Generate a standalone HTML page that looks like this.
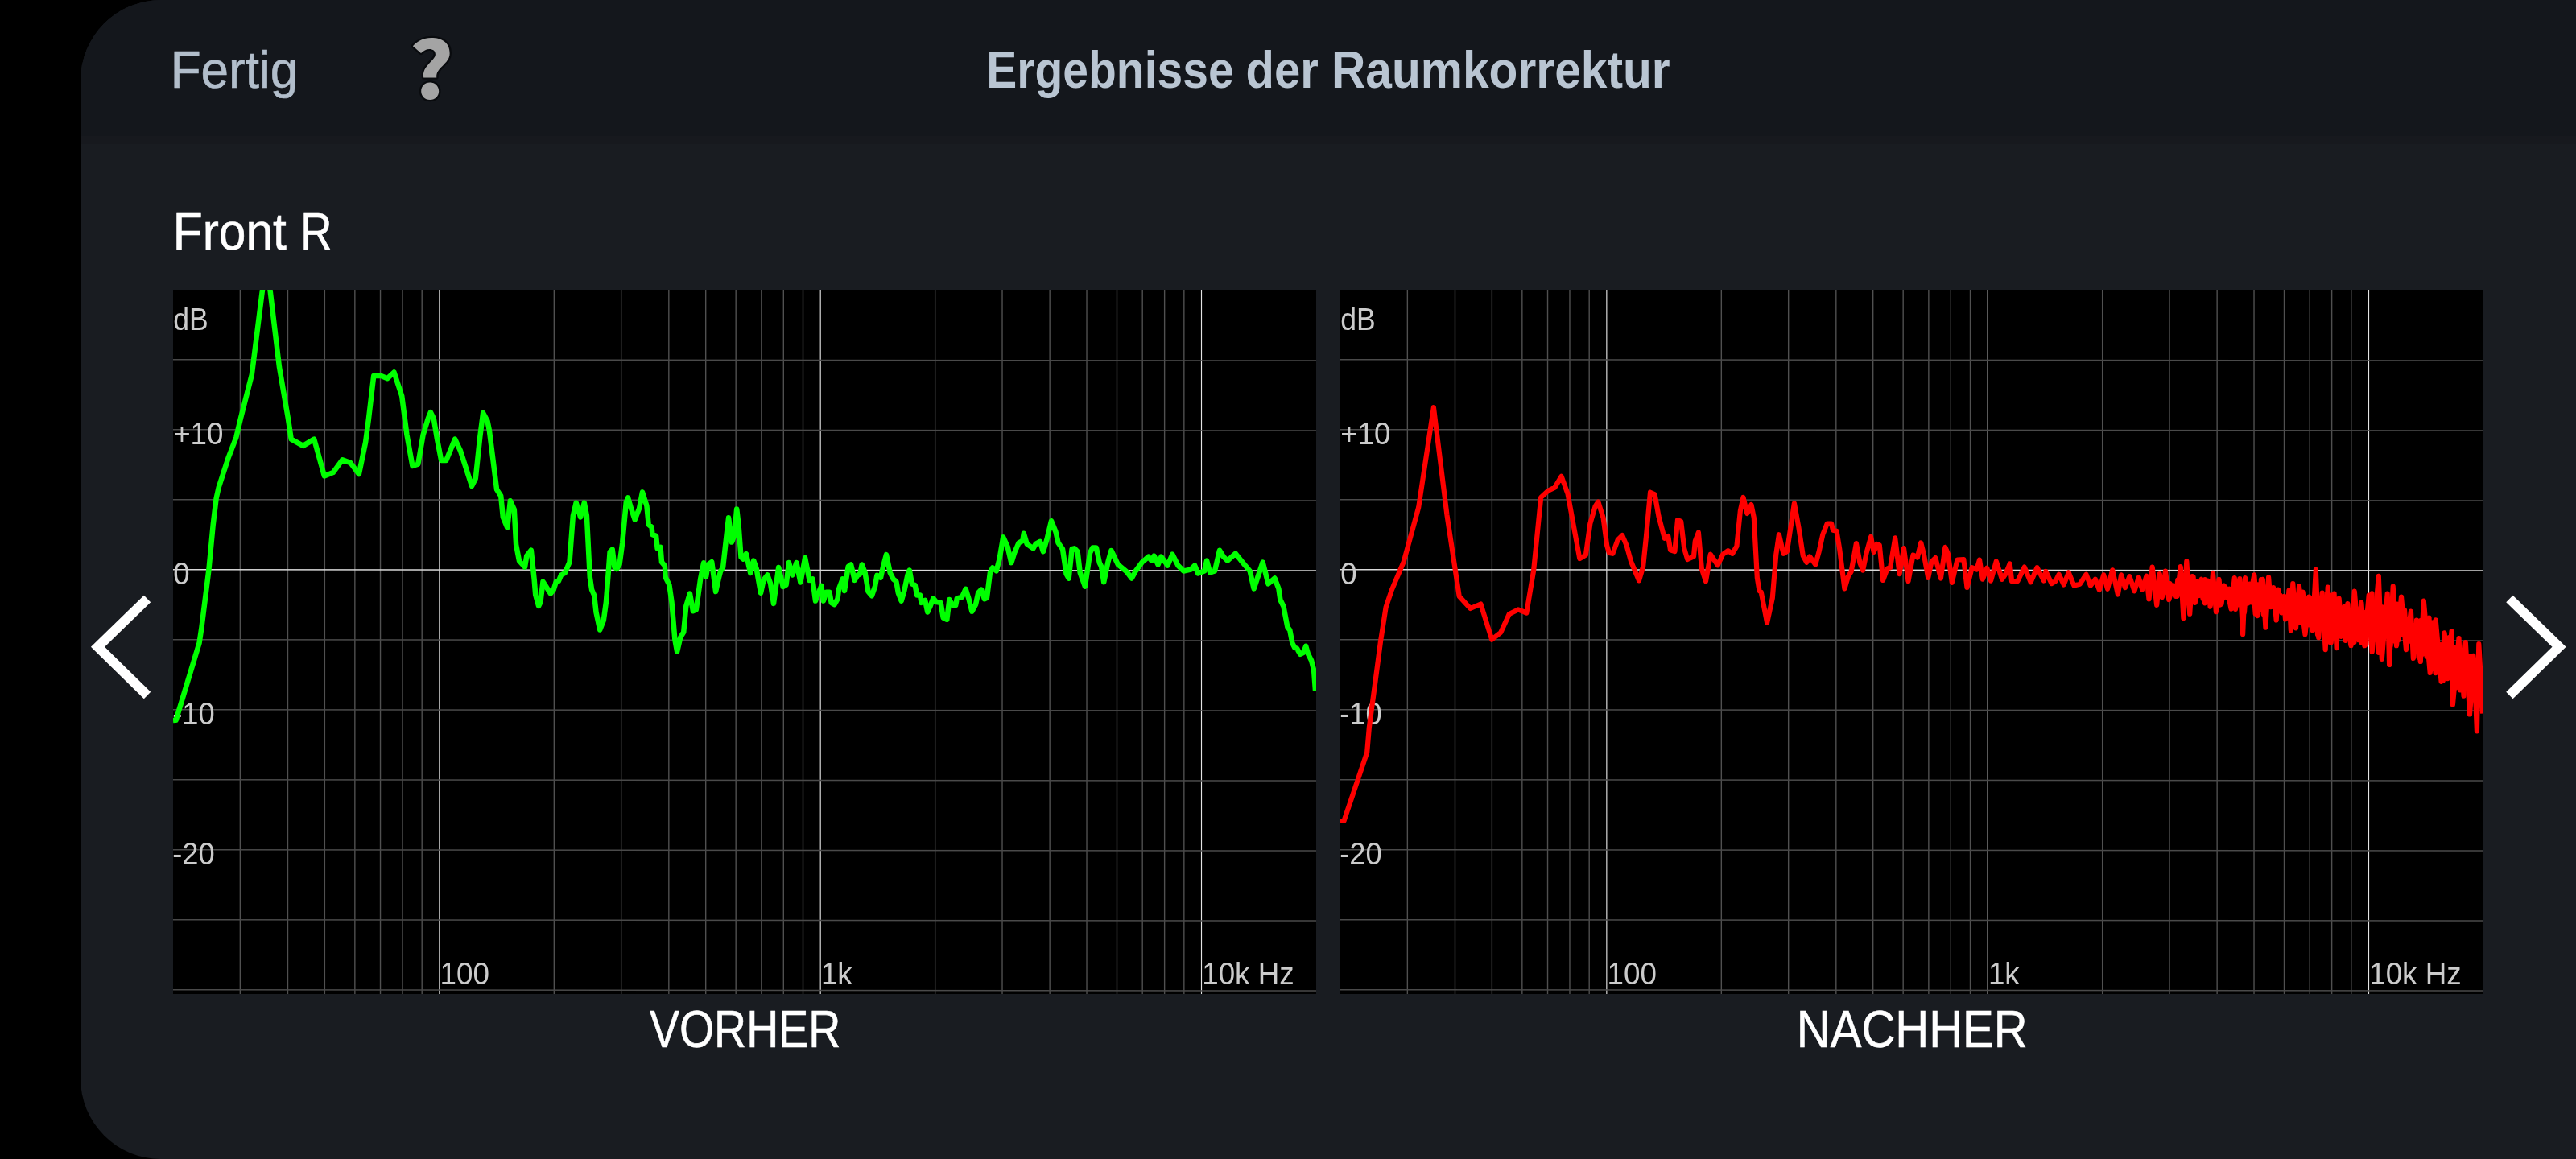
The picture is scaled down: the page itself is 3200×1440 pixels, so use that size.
<!DOCTYPE html>
<html lang="de"><head><meta charset="utf-8"><title>Ergebnisse der Raumkorrektur</title>
<style>
html,body{margin:0;padding:0;background:#000;}
body{width:3200px;height:1440px;position:relative;overflow:hidden;font-family:"Liberation Sans",sans-serif;}
#panel{position:absolute;left:100px;top:0;width:3100px;height:1440px;background:#191c21;border-radius:100px 0 0 100px;overflow:hidden;}
#hdr{position:absolute;left:0;top:0;width:100%;height:169px;background:#14171c;}
#hsh{position:absolute;left:0;top:169px;width:100%;height:10px;background:#17191e;}
svg{position:absolute;left:0;top:0;will-change:transform;}
</style></head><body>
<div id="panel"><div id="hdr"></div><div id="hsh"></div></div>
<svg width="3200" height="1440" viewBox="0 0 3200 1440">
<defs><clipPath id="c1"><rect x="215" y="360" width="1420" height="875"/></clipPath>
<clipPath id="c2"><rect x="1665" y="360" width="1420" height="875"/></clipPath></defs>
<text transform="translate(211.63,109.10) scale(0.9700,1)" font-family="Liberation Sans, sans-serif" font-size="64" font-weight="normal" fill="#b2becb" stroke="#b2becb" stroke-width="0.6">Fertig</text>
<text transform="translate(508,122.9) scale(1.067,1)" font-family="Noto Sans CJK JP, sans-serif" font-weight="900" font-size="97" fill="#a4a4a4" stroke="#090b0e" stroke-width="4.5" stroke-linejoin="round" paint-order="stroke">?</text>
<text y="109" font-family="Liberation Sans, sans-serif" font-size="64" font-weight="bold" fill="#b9c5d2"><tspan x="1225.28" textLength="307.32" lengthAdjust="spacingAndGlyphs">Ergebnisse</tspan> <tspan x="1547.48" textLength="90.25" lengthAdjust="spacingAndGlyphs">der</tspan> <tspan x="1653.98" textLength="420.64" lengthAdjust="spacingAndGlyphs">Raumkorrektur</tspan></text>
<text y="310.2" font-family="Liberation Sans, sans-serif" font-size="64" fill="#ffffff" stroke="#ffffff" stroke-width="0.6"><tspan x="214.76" textLength="141.12" lengthAdjust="spacingAndGlyphs">Front</tspan> <tspan x="373.25" textLength="39.23" lengthAdjust="spacingAndGlyphs">R</tspan></text>
<rect x="215" y="360" width="1420" height="875" fill="#000"/>
<rect x="1665" y="360" width="1420" height="875" fill="#000"/>
<g clip-path="url(#c1)"><line x1="298.35" y1="360" x2="298.35" y2="1235" stroke="#505050" stroke-width="1.4"/>
<line x1="357.49" y1="360" x2="357.49" y2="1235" stroke="#505050" stroke-width="1.4"/>
<line x1="403.36" y1="360" x2="403.36" y2="1235" stroke="#505050" stroke-width="1.4"/>
<line x1="440.84" y1="360" x2="440.84" y2="1235" stroke="#505050" stroke-width="1.4"/>
<line x1="472.53" y1="360" x2="472.53" y2="1235" stroke="#505050" stroke-width="1.4"/>
<line x1="499.98" y1="360" x2="499.98" y2="1235" stroke="#505050" stroke-width="1.4"/>
<line x1="524.19" y1="360" x2="524.19" y2="1235" stroke="#505050" stroke-width="1.4"/>
<line x1="545.85" y1="360" x2="545.85" y2="1235" stroke="#e4e4e4" stroke-width="1.15"/>
<line x1="688.33" y1="360" x2="688.33" y2="1235" stroke="#505050" stroke-width="1.4"/>
<line x1="771.68" y1="360" x2="771.68" y2="1235" stroke="#505050" stroke-width="1.4"/>
<line x1="830.82" y1="360" x2="830.82" y2="1235" stroke="#505050" stroke-width="1.4"/>
<line x1="876.69" y1="360" x2="876.69" y2="1235" stroke="#505050" stroke-width="1.4"/>
<line x1="914.17" y1="360" x2="914.17" y2="1235" stroke="#505050" stroke-width="1.4"/>
<line x1="945.86" y1="360" x2="945.86" y2="1235" stroke="#505050" stroke-width="1.4"/>
<line x1="973.31" y1="360" x2="973.31" y2="1235" stroke="#505050" stroke-width="1.4"/>
<line x1="997.52" y1="360" x2="997.52" y2="1235" stroke="#505050" stroke-width="1.4"/>
<line x1="1019.18" y1="360" x2="1019.18" y2="1235" stroke="#e4e4e4" stroke-width="1.15"/>
<line x1="1161.67" y1="360" x2="1161.67" y2="1235" stroke="#505050" stroke-width="1.4"/>
<line x1="1245.02" y1="360" x2="1245.02" y2="1235" stroke="#505050" stroke-width="1.4"/>
<line x1="1304.15" y1="360" x2="1304.15" y2="1235" stroke="#505050" stroke-width="1.4"/>
<line x1="1350.02" y1="360" x2="1350.02" y2="1235" stroke="#505050" stroke-width="1.4"/>
<line x1="1387.50" y1="360" x2="1387.50" y2="1235" stroke="#505050" stroke-width="1.4"/>
<line x1="1419.19" y1="360" x2="1419.19" y2="1235" stroke="#505050" stroke-width="1.4"/>
<line x1="1446.64" y1="360" x2="1446.64" y2="1235" stroke="#505050" stroke-width="1.4"/>
<line x1="1470.85" y1="360" x2="1470.85" y2="1235" stroke="#505050" stroke-width="1.4"/>
<line x1="1492.51" y1="360" x2="1492.51" y2="1235" stroke="#e4e4e4" stroke-width="1.15"/>
<line x1="215" y1="1229.75" x2="1635" y2="1231.05" stroke="#4a4a4a" stroke-width="1.5"/>
<line x1="215" y1="1142.75" x2="1635" y2="1144.05" stroke="#4a4a4a" stroke-width="1.5"/>
<line x1="215" y1="1055.75" x2="1635" y2="1057.05" stroke="#4a4a4a" stroke-width="1.5"/>
<line x1="215" y1="968.75" x2="1635" y2="970.05" stroke="#4a4a4a" stroke-width="1.5"/>
<line x1="215" y1="881.75" x2="1635" y2="883.05" stroke="#4a4a4a" stroke-width="1.5"/>
<line x1="215" y1="794.75" x2="1635" y2="796.05" stroke="#4a4a4a" stroke-width="1.5"/>
<line x1="215" y1="707.75" x2="1635" y2="709.05" stroke="#d8d8d8" stroke-width="1.5"/>
<line x1="215" y1="620.75" x2="1635" y2="622.05" stroke="#4a4a4a" stroke-width="1.5"/>
<line x1="215" y1="533.75" x2="1635" y2="535.05" stroke="#4a4a4a" stroke-width="1.5"/>
<line x1="215" y1="446.75" x2="1635" y2="448.05" stroke="#4a4a4a" stroke-width="1.5"/>
<text transform="translate(215.18,409.70) scale(0.9240,1)" font-family="Liberation Sans, sans-serif" font-size="38.5" font-weight="normal" fill="#cbcbcb">dB</text>
<text transform="translate(215.13,552.00) scale(0.9540,1)" font-family="Liberation Sans, sans-serif" font-size="38.5" font-weight="normal" fill="#cbcbcb">+10</text>
<text transform="translate(215.30,726.00) scale(0.9500,1)" font-family="Liberation Sans, sans-serif" font-size="38.5" font-weight="normal" fill="#cbcbcb">0</text>
<text transform="translate(214.15,900.00) scale(0.9430,1)" font-family="Liberation Sans, sans-serif" font-size="38.5" font-weight="normal" fill="#cbcbcb">-10</text>
<text transform="translate(214.15,1074.00) scale(0.9430,1)" font-family="Liberation Sans, sans-serif" font-size="38.5" font-weight="normal" fill="#cbcbcb">-20</text>
<text transform="translate(546.57,1222.90) scale(0.9550,1)" font-family="Liberation Sans, sans-serif" font-size="38.5" font-weight="normal" fill="#cbcbcb">100</text>
<text transform="translate(1019.91,1222.90) scale(0.9550,1)" font-family="Liberation Sans, sans-serif" font-size="38.5" font-weight="normal" fill="#cbcbcb">1k</text>
<text transform="translate(1493.24,1222.90) scale(0.9550,1)" font-family="Liberation Sans, sans-serif" font-size="38.5" font-weight="normal" fill="#cbcbcb">10k Hz</text>
<path d="M215.0,895.0 L218.6,894.7 L247.6,798.7 L250.3,780.6 L259.4,708.0 L264.7,652.0 L268.6,619.4 L271.7,605.4 L283.3,569.7 L293.4,543.3 L298.9,520.0 L312.8,465.6 L326.0,360.0 L330.7,330.0 L335.5,360.0 L347.0,456.3 L357.9,520.0 L361.7,545.6 L376.5,553.9 L390.2,545.6 L402.9,591.4 L413.8,587.1 L425.4,571.2 L435.5,575.1 L445.9,589.1 L454.1,549.5 L458.0,520.0 L464.2,467.1 L472.8,466.8 L481.3,470.2 L489.5,462.5 L499.2,492.0 L505.4,540.0 L512.4,579.0 L519.3,576.7 L525.6,540.2 L531.8,520.0 L534.9,512.2 L538.8,520.0 L542.6,543.3 L548.1,572.0 L554.3,572.0 L565.2,545.6 L572.1,560.4 L586.1,603.9 L590.8,594.5 L596.2,543.3 L600.1,513.0 L605.5,523.0 L607.9,535.0 L617.1,608.3 L622.2,616.1 L624.8,642.5 L630.3,655.7 L633.9,622.3 L638.8,633.2 L641.1,676.6 L645.0,696.8 L652.0,704.6 L654.3,690.6 L659.8,683.6 L663.7,720.4 L665.2,739.0 L669.1,753.0 L671.4,748.3 L674.5,722.7 L683.9,737.5 L687.7,732.8 L690.8,722.7 L693.9,721.9 L697.0,714.5 L701.7,712.0 L707.5,698.5 L711.8,640.9 L715.7,624.6 L721.1,642.5 L725.8,624.6 L728.9,640.9 L732.8,717.3 L735.1,732.8 L738.2,739.8 L740.5,760.7 L745.2,782.5 L749.8,770.8 L752.9,748.3 L756.1,706.4 L757.6,685.7 L760.7,682.6 L763.5,705.0 L766.1,707.0 L769.6,701.0 L773.1,675.1 L777.8,623.9 L780.1,618.4 L784.0,631.6 L788.7,645.6 L794.1,631.6 L798.0,611.4 L803.4,628.5 L805.7,651.8 L809.6,654.9 L810.4,664.2 L815.1,665.8 L816.6,681.3 L820.5,679.8 L822.0,698.4 L825.9,703.0 L826.7,717.3 L831.4,726.6 L834.5,748.3 L838.4,794.9 L841.1,809.7 L845.3,791.8 L849.2,785.6 L852.3,753.0 L857.0,737.5 L860.9,759.2 L864.8,757.6 L870.2,718.8 L874.1,699.3 L877.2,716.3 L879.5,701.6 L884.2,698.1 L889.1,735.1 L892.7,719.0 L895.0,710.0 L898.1,705.0 L902.8,662.7 L905.1,643.3 L909.0,673.5 L912.1,665.8 L915.2,632.4 L917.5,651.8 L920.5,692.3 L923.4,694.6 L926.9,688.0 L932.2,712.0 L936.2,696.6 L939.7,706.6 L945.0,736.7 L948.6,720.4 L953.3,714.4 L957.1,725.0 L961.0,749.9 L967.2,705.0 L972.7,728.9 L976.6,726.6 L980.0,699.0 L984.3,714.5 L989.4,699.0 L994.4,723.5 L1000.1,693.0 L1005.5,720.9 L1009.4,719.4 L1013.0,746.6 L1020.3,727.9 L1022.9,746.6 L1026.5,735.7 L1030.4,735.7 L1032.7,748.9 L1036.6,751.2 L1040.5,744.2 L1042.0,731.8 L1046.7,719.4 L1049.0,734.1 L1053.7,703.9 L1057.1,701.5 L1061.7,720.9 L1065.3,714.7 L1068.4,713.2 L1070.7,701.5 L1074.6,711.6 L1078.5,734.9 L1082.9,740.3 L1087.0,728.7 L1089.4,714.7 L1094.0,717.8 L1097.1,703.9 L1101.0,689.1 L1105.7,711.6 L1109.6,719.4 L1113.4,722.5 L1115.8,736.5 L1119.7,746.6 L1123.5,733.4 L1127.4,714.7 L1129.8,708.5 L1132.9,725.6 L1136.7,727.1 L1139.1,739.6 L1143.0,739.6 L1144.5,748.9 L1149.2,745.8 L1152.3,760.5 L1155.4,753.5 L1159.3,743.4 L1163.1,748.1 L1168.6,748.9 L1171.7,767.5 L1176.3,769.8 L1179.4,745.0 L1183.3,752.0 L1187.2,752.0 L1188.8,743.4 L1195.0,741.9 L1199.6,731.8 L1203.5,744.2 L1207.4,759.8 L1212.0,751.2 L1215.2,736.5 L1219.0,732.6 L1222.9,744.2 L1226.0,742.7 L1229.9,711.6 L1233.0,705.4 L1237.7,709.3 L1241.6,694.5 L1246.2,667.4 L1251.6,679.0 L1256.3,699.2 L1260.2,686.8 L1265.6,674.3 L1270.3,672.0 L1271.8,662.7 L1275.7,675.9 L1283.5,681.3 L1286.6,675.9 L1292.0,672.8 L1295.9,685.2 L1300.6,669.7 L1306.0,647.2 L1311.4,660.4 L1314.5,674.3 L1320.0,682.1 L1324.6,713.2 L1327.7,718.6 L1331.6,682.1 L1334.7,681.3 L1338.6,685.2 L1341.7,711.6 L1347.9,728.7 L1354.1,686.8 L1357.2,680.6 L1361.9,680.6 L1365.8,699.2 L1368.1,703.9 L1371.2,723.3 L1376.6,697.6 L1380.5,684.0 L1388.9,701.6 L1399.8,710.5 L1405.8,718.5 L1410.8,709.5 L1418.7,698.6 L1426.6,691.7 L1430.6,696.6 L1433.6,690.7 L1438.6,701.6 L1442.5,691.7 L1450.5,702.6 L1456.4,688.7 L1463.4,702.6 L1470.3,709.5 L1479.2,707.6 L1484.2,702.6 L1488.2,712.5 L1496.1,709.5 L1499.1,696.6 L1503.1,711.5 L1509.0,709.5 L1515.0,683.7 L1519.9,691.7 L1524.9,696.6 L1534.8,687.7 L1541.8,696.6 L1552.7,709.5 L1557.6,731.4 L1568.6,698.6 L1575.5,725.4 L1583.5,718.5 L1588.4,731.4 L1590.4,745.3 L1594.4,753.2 L1599.3,779.0 L1602.3,783.0 L1605.3,798.9 L1608.3,804.8 L1611.2,805.8 L1615.2,812.8 L1619.2,810.8 L1622.2,802.8 L1625.1,812.8 L1629.1,820.7 L1632.1,832.6 L1634.0,858.0" fill="none" stroke="#00ff00" stroke-width="6.5" stroke-linejoin="round" stroke-linecap="butt"/></g>
<g clip-path="url(#c2)"><line x1="1748.35" y1="360" x2="1748.35" y2="1235" stroke="#505050" stroke-width="1.4"/>
<line x1="1807.49" y1="360" x2="1807.49" y2="1235" stroke="#505050" stroke-width="1.4"/>
<line x1="1853.36" y1="360" x2="1853.36" y2="1235" stroke="#505050" stroke-width="1.4"/>
<line x1="1890.84" y1="360" x2="1890.84" y2="1235" stroke="#505050" stroke-width="1.4"/>
<line x1="1922.53" y1="360" x2="1922.53" y2="1235" stroke="#505050" stroke-width="1.4"/>
<line x1="1949.98" y1="360" x2="1949.98" y2="1235" stroke="#505050" stroke-width="1.4"/>
<line x1="1974.19" y1="360" x2="1974.19" y2="1235" stroke="#505050" stroke-width="1.4"/>
<line x1="1995.85" y1="360" x2="1995.85" y2="1235" stroke="#e4e4e4" stroke-width="1.15"/>
<line x1="2138.33" y1="360" x2="2138.33" y2="1235" stroke="#505050" stroke-width="1.4"/>
<line x1="2221.68" y1="360" x2="2221.68" y2="1235" stroke="#505050" stroke-width="1.4"/>
<line x1="2280.82" y1="360" x2="2280.82" y2="1235" stroke="#505050" stroke-width="1.4"/>
<line x1="2326.69" y1="360" x2="2326.69" y2="1235" stroke="#505050" stroke-width="1.4"/>
<line x1="2364.17" y1="360" x2="2364.17" y2="1235" stroke="#505050" stroke-width="1.4"/>
<line x1="2395.86" y1="360" x2="2395.86" y2="1235" stroke="#505050" stroke-width="1.4"/>
<line x1="2423.31" y1="360" x2="2423.31" y2="1235" stroke="#505050" stroke-width="1.4"/>
<line x1="2447.52" y1="360" x2="2447.52" y2="1235" stroke="#505050" stroke-width="1.4"/>
<line x1="2469.18" y1="360" x2="2469.18" y2="1235" stroke="#e4e4e4" stroke-width="1.15"/>
<line x1="2611.67" y1="360" x2="2611.67" y2="1235" stroke="#505050" stroke-width="1.4"/>
<line x1="2695.02" y1="360" x2="2695.02" y2="1235" stroke="#505050" stroke-width="1.4"/>
<line x1="2754.15" y1="360" x2="2754.15" y2="1235" stroke="#505050" stroke-width="1.4"/>
<line x1="2800.02" y1="360" x2="2800.02" y2="1235" stroke="#505050" stroke-width="1.4"/>
<line x1="2837.50" y1="360" x2="2837.50" y2="1235" stroke="#505050" stroke-width="1.4"/>
<line x1="2869.19" y1="360" x2="2869.19" y2="1235" stroke="#505050" stroke-width="1.4"/>
<line x1="2896.64" y1="360" x2="2896.64" y2="1235" stroke="#505050" stroke-width="1.4"/>
<line x1="2920.85" y1="360" x2="2920.85" y2="1235" stroke="#505050" stroke-width="1.4"/>
<line x1="2942.51" y1="360" x2="2942.51" y2="1235" stroke="#e4e4e4" stroke-width="1.15"/>
<line x1="1665" y1="1229.75" x2="3085" y2="1231.05" stroke="#4a4a4a" stroke-width="1.5"/>
<line x1="1665" y1="1142.75" x2="3085" y2="1144.05" stroke="#4a4a4a" stroke-width="1.5"/>
<line x1="1665" y1="1055.75" x2="3085" y2="1057.05" stroke="#4a4a4a" stroke-width="1.5"/>
<line x1="1665" y1="968.75" x2="3085" y2="970.05" stroke="#4a4a4a" stroke-width="1.5"/>
<line x1="1665" y1="881.75" x2="3085" y2="883.05" stroke="#4a4a4a" stroke-width="1.5"/>
<line x1="1665" y1="794.75" x2="3085" y2="796.05" stroke="#4a4a4a" stroke-width="1.5"/>
<line x1="1665" y1="707.75" x2="3085" y2="709.05" stroke="#d8d8d8" stroke-width="1.5"/>
<line x1="1665" y1="620.75" x2="3085" y2="622.05" stroke="#4a4a4a" stroke-width="1.5"/>
<line x1="1665" y1="533.75" x2="3085" y2="535.05" stroke="#4a4a4a" stroke-width="1.5"/>
<line x1="1665" y1="446.75" x2="3085" y2="448.05" stroke="#4a4a4a" stroke-width="1.5"/>
<text transform="translate(1665.18,409.70) scale(0.9240,1)" font-family="Liberation Sans, sans-serif" font-size="38.5" font-weight="normal" fill="#cbcbcb">dB</text>
<text transform="translate(1665.13,552.00) scale(0.9540,1)" font-family="Liberation Sans, sans-serif" font-size="38.5" font-weight="normal" fill="#cbcbcb">+10</text>
<text transform="translate(1665.30,726.00) scale(0.9500,1)" font-family="Liberation Sans, sans-serif" font-size="38.5" font-weight="normal" fill="#cbcbcb">0</text>
<text transform="translate(1664.15,900.00) scale(0.9430,1)" font-family="Liberation Sans, sans-serif" font-size="38.5" font-weight="normal" fill="#cbcbcb">-10</text>
<text transform="translate(1664.15,1074.00) scale(0.9430,1)" font-family="Liberation Sans, sans-serif" font-size="38.5" font-weight="normal" fill="#cbcbcb">-20</text>
<text transform="translate(1996.57,1222.90) scale(0.9550,1)" font-family="Liberation Sans, sans-serif" font-size="38.5" font-weight="normal" fill="#cbcbcb">100</text>
<text transform="translate(2469.91,1222.90) scale(0.9550,1)" font-family="Liberation Sans, sans-serif" font-size="38.5" font-weight="normal" fill="#cbcbcb">1k</text>
<text transform="translate(2943.24,1222.90) scale(0.9550,1)" font-family="Liberation Sans, sans-serif" font-size="38.5" font-weight="normal" fill="#cbcbcb">10k Hz</text>
<path d="M2668.0,726.8 L2670.1,729.6 L2672.0,724.9 L2674.3,728.0 L2676.8,727.1 L2679.2,730.1 L2681.2,723.9 L2684.0,730.2 L2686.1,725.1 L2689.1,736.2 L2691.4,724.0 L2693.4,735.9 L2695.6,725.1 L2697.6,732.4 L2700.4,727.8 L2703.0,740.9 L2705.3,720.6 L2707.2,737.1 L2709.4,720.6 L2711.7,743.6 L2714.3,717.3 L2716.5,746.9 L2719.2,720.7 L2721.7,747.4 L2724.6,716.6 L2726.8,749.0 L2728.8,722.1 L2731.5,740.2 L2734.0,730.7 L2736.6,744.0 L2739.1,720.0 L2741.4,746.1 L2743.9,724.5 L2746.3,750.6 L2749.3,727.2 L2751.9,741.7 L2754.6,725.4 L2757.6,751.7 L2759.8,728.4 L2762.4,742.4 L2764.8,732.2 L2766.9,743.1 L2769.6,731.7 L2771.8,745.5 L2774.6,736.8 L2777.0,756.9 L2779.9,722.2 L2782.8,749.3 L2785.1,729.1 L2788.0,760.9 L2790.1,731.4 L2792.2,749.7 L2794.6,725.6 L2796.8,748.5 L2799.2,729.6 L2801.7,762.4 L2804.4,726.3 L2807.0,757.8 L2808.9,720.1 L2811.7,763.1 L2814.5,733.1 L2816.8,753.0 L2819.4,740.2 L2821.4,753.9 L2823.4,737.9 L2825.4,752.8 L2827.5,742.6 L2829.8,751.5 L2832.6,739.6 L2834.7,757.4 L2837.0,741.9 L2839.0,769.5 L2842.0,740.9 L2844.4,759.0 L2846.4,742.6 L2848.6,773.2 L2850.7,749.6 L2853.7,770.2 L2855.7,741.8 L2857.7,774.0 L2860.6,735.6 L2863.3,767.5 L2865.6,744.4 L2868.3,776.3 L2871.1,744.1 L2873.2,782.5 L2876.2,733.6 L2879.0,788.4 L2881.7,748.6 L2884.2,777.6 L2886.1,752.5 L2888.3,778.9 L2891.0,737.3 L2893.4,797.7 L2896.4,739.5 L2898.7,782.1 L2900.8,759.1 L2903.0,788.7 L2905.8,749.2 L2908.3,790.8 L2911.1,761.9 L2913.7,795.8 L2916.4,750.0 L2918.9,779.4 L2921.6,758.5 L2924.4,798.0 L2926.8,755.3 L2929.7,792.7 L2931.8,760.4 L2933.8,798.8 L2936.6,760.9 L2939.4,800.6 L2942.1,751.8 L2944.6,782.6 L2946.5,737.3 L2949.1,794.7 L2952.0,749.6 L2954.9,810.9 L2957.0,753.0 L2959.2,791.9 L2961.8,754.4 L2964.1,786.6 L2967.0,749.6 L2969.5,802.1 L2972.3,754.1 L2975.3,796.7 L2977.7,750.5 L2979.7,795.0 L2981.8,768.9 L2984.5,788.4 L2987.0,757.6 L2989.5,796.1 L2991.9,768.8 L2994.7,796.6 L2997.2,776.6 L2999.4,810.0 L3001.9,770.6 L3004.6,816.7 L3007.0,771.2 L3009.5,812.8 L3012.1,778.4 L3014.6,815.6 L3017.5,767.7 L3020.4,831.4 L3022.6,773.3 L3025.5,836.2 L3027.6,798.7 L3030.0,818.2 L3032.1,801.0 L3034.8,845.5 L3037.7,803.6 L3040.3,843.1 L3042.4,792.2 L3045.4,834.1 L3048.3,804.0 L3050.8,854.3 L3053.6,812.3 L3055.9,857.4 L3058.2,816.8 L3060.5,864.7 L3062.4,815.9 L3064.8,854.4 L3067.0,815.4 L3069.5,856.6 L3072.5,814.9 L3075.5,866.8 L3077.6,841.5 L3080.4,873.2 L3082.4,832.0" fill="none" stroke="#ff0000" stroke-width="6.2" stroke-linejoin="round" stroke-linecap="butt"/>
<path d="M1665.0,1020.0 L1669.5,1019.9 L1698.2,934.7 L1700.9,903.3 L1708.7,845.0 L1715.0,797.0 L1721.6,754.6 L1728.5,733.9 L1743.7,698.0 L1762.2,630.4 L1780.9,506.2 L1797.5,640.1 L1812.7,740.8 L1826.5,756.0 L1839.4,750.5 L1853.2,794.7 L1864.3,785.8 L1874.8,762.9 L1885.8,757.4 L1896.3,761.5 L1905.1,709.1 L1914.2,618.0 L1923.1,609.7 L1931.4,605.6 L1939.6,591.8 L1947.5,613.5 L1962.3,694.0 L1969.9,689.6 L1975.3,650.7 L1981.7,628.9 L1985.3,623.5 L1991.6,643.4 L1996.2,677.8 L1998.9,686.9 L2003.4,687.8 L2009.7,670.6 L2015.2,665.1 L2020.6,677.8 L2026.1,697.8 L2036.0,721.3 L2041.1,704.1 L2045.1,665.1 L2050.0,611.7 L2055.6,614.4 L2060.5,641.6 L2067.7,668.8 L2072.2,666.1 L2075.0,683.3 L2080.4,685.1 L2084.0,646.1 L2088.2,647.9 L2092.2,681.4 L2096.2,695.0 L2104.0,691.4 L2105.8,672.4 L2109.9,661.5 L2113.9,706.8 L2119.0,722.2 L2124.8,688.7 L2133.8,702.3 L2140.2,688.7 L2146.5,684.2 L2152.0,687.8 L2157.4,678.7 L2161.9,634.3 L2165.5,618.0 L2170.4,638.0 L2175.5,627.1 L2178.8,643.4 L2182.8,717.7 L2185.5,734.0 L2187.8,735.8 L2195.1,773.8 L2201.8,743.0 L2206.3,688.7 L2209.9,664.2 L2215.4,687.8 L2219.9,685.1 L2228.9,625.3 L2234.4,655.2 L2239.8,690.5 L2244.3,698.7 L2248.0,691.4 L2255.2,701.4 L2259.7,685.1 L2264.3,664.2 L2269.7,650.7 L2275.1,650.7 L2277.0,658.8 L2281.5,659.7 L2285.1,681.4 L2291.4,731.3 L2296.0,715.9 L2299.6,710.4 L2305.9,675.1 L2310.5,699.6 L2314.1,708.6 L2318.6,686.9 L2324.1,667.0 L2327.7,686.0 L2331.5,676.0 L2334.8,677.4 L2339.1,720.9 L2344.5,706.4 L2348.1,705.2 L2354.2,668.4 L2359.6,713.1 L2365.0,681.1 L2370.5,722.1 L2376.5,689.5 L2381.9,692.5 L2386.2,674.4 L2389.8,688.3 L2395.2,717.9 L2399.4,698.0 L2404.3,693.1 L2410.9,718.5 L2416.4,679.9 L2420.0,688.3 L2424.8,723.9 L2431.4,695.6 L2439.3,695.0 L2443.5,730.0 L2449.6,705.2 L2455.6,707.6 L2459.0,695.6 L2462.9,719.7 L2468.3,705.8 L2473.1,721.5 L2479.8,697.4 L2487.0,719.7 L2491.8,712.5 L2496.7,700.4 L2499.1,722.1 L2506.3,722.1 L2514.8,704.6 L2522.6,723.3 L2530.5,705.2 L2538.9,721.5 L2541.4,710.0 L2548.6,725.1 L2553.4,722.1 L2557.7,713.7 L2563.7,726.4 L2569.7,711.3 L2576.4,727.6 L2583.6,725.7 L2591.5,713.7 L2596.9,727.6 L2602.9,719.7 L2607.8,733.0 L2613.2,714.3 L2618.0,731.8 L2624.2,708.3 L2630.9,738.5 L2635.1,714.3 L2639.9,730.0 L2645.4,716.2 L2651.4,734.3 L2656.8,717.4 L2661.1,732.5 L2666.5,715.6 L2669.5,744.5 L2673.7,704.7 L2679.2,751.8 L2682.8,713.1 L2685.8,742.1 L2690.0,709.5 L2694.3,745.1 L2699.1,727.6 L2704.5,740.9 L2708.8,704.1 L2712.4,768.1 L2716.3,697.4 L2720.2,762.7 L2723.3,716.2 L2727.5,738.5 L2734.7,719.8 L2739.0,749.4 L2742.6,721.6 L2745.6,753.6 L2749.0,711.9 L2752.9,760.2 L2756.5,719.8 L2759.5,750.6 L2762.5,727.6 L2766.7,732.5 L2771.6,756.6 L2775.8,718.0 L2778.8,751.8 L2782.4,719.2 L2786.1,788.0 L2789.1,718.0 L2793.9,748.2 L2800.3,714.3 L2804.2,765.1 L2810.8,719.8 L2814.4,779.6 L2818.1,717.4 L2821.1,754.2 L2824.1,730.0 L2827.7,770.5 L2830.1,732.5 L2834.4,761.4 L2837.4,740.9 L2841.0,767.5 L2843.4,733.7 L2845.8,783.2 L2848.3,725.2 L2852.0,780.3 L2856.0,728.7 L2863.5,788.3 L2868.3,741.6 L2872.8,783.3 L2876.8,707.9 L2880.2,792.2 L2884.7,736.7 L2888.7,807.1 L2891.7,729.7 L2895.7,798.2 L2899.6,737.6 L2902.6,805.1 L2905.6,743.6 L2909.6,789.3 L2912.5,753.5 L2920.5,802.2 L2924.8,734.7 L2930.0,795.2 L2933.4,748.6 L2937.3,802.2 L2942.7,739.6 L2946.7,810.1 L2954.8,715.8 L2958.8,819.0 L2965.7,737.6 L2968.1,826.0 L2972.7,728.7 L2977.0,802.2 L2983.0,741.6 L2989.0,807.1 L2994.9,759.5 L2997.9,818.0 L3002.9,776.4 L3006.8,822.0 L3010.8,746.6 L3018.7,835.9 L3025.7,770.4 L3032.6,846.8 L3036.6,786.3 L3041.0,836.0 L3045.5,784.3 L3046.9,875.6 L3054.5,793.2 L3057.4,856.7 L3062.8,798.2 L3068.0,887.5 L3073.3,819.0 L3076.9,908.4 L3079.3,800.2 L3084.2,886.5" fill="none" stroke="#ff0000" stroke-width="6.2" stroke-linejoin="round" stroke-linecap="butt"/></g>
<polyline points="183,744 121.5,803.7 183,864" fill="none" stroke="#fff" stroke-width="12"/>
<polyline points="3117.4,744 3179,803.7 3117.4,864" fill="none" stroke="#fff" stroke-width="12"/>
<text transform="translate(806.90,1301.10) scale(0.8676,1)" font-family="Liberation Sans, sans-serif" font-size="64" font-weight="normal" fill="#ffffff" stroke="#ffffff" stroke-width="0.6">VORHER</text>
<text transform="translate(2231.86,1300.80) scale(0.9064,1)" font-family="Liberation Sans, sans-serif" font-size="64" font-weight="normal" fill="#ffffff" stroke="#ffffff" stroke-width="0.6">NACHHER</text>
</svg>
</body></html>
